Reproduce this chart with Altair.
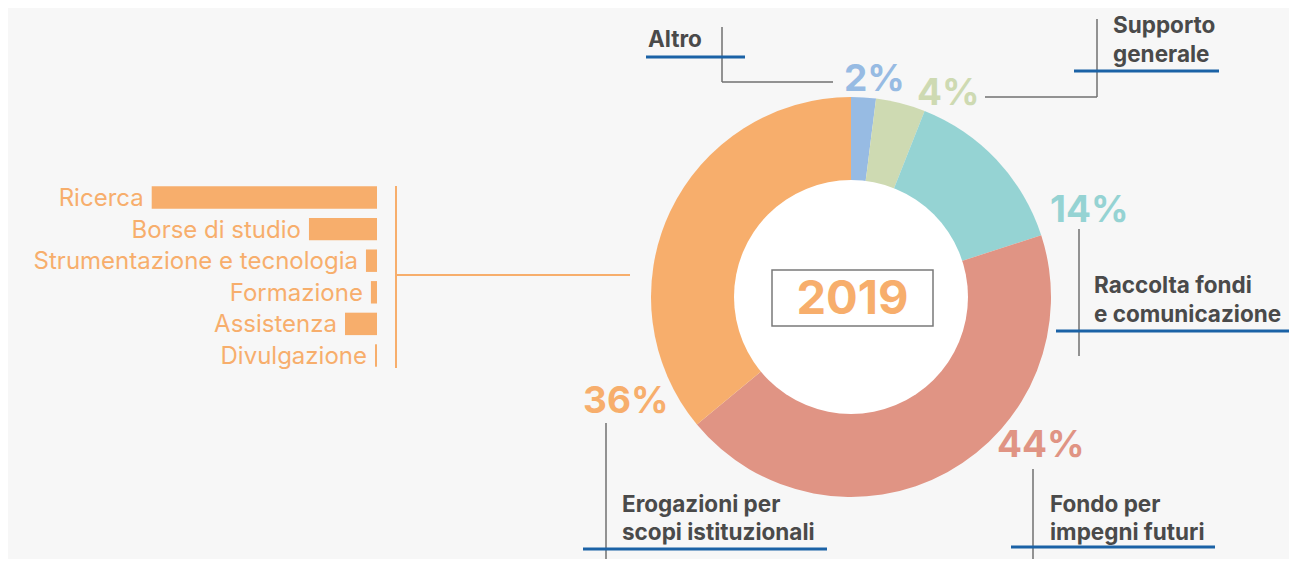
import altair as alt
import pandas as pd

# ---------------- data ----------------
slice_labels = ["Altro", "Supporto generale", "Raccolta fondi e comunicazione",
                "Fondo per impegni futuri", "Erogazioni per scopi istituzionali"]
slice_values = [2, 4, 14, 44, 36]
slice_colors = ["#97BBE3", "#CEDAB2", "#95D3D3", "#E09484", "#F7AE6C"]
pct_text = ["2%", "4%", "14%", "44%", "36%"]

bar_cats = ["Ricerca", "Borse di studio", "Strumentazione e tecnologia",
            "Formazione", "Assistenza", "Divulgazione"]
bar_values = [100, 30.2, 4.9, 2.7, 14.2, 0.9]

year_text = "2019"

# label lines (two-line names)
name_lines = [["Altro"], ["Supporto", "generale"], ["Raccolta fondi", "e comunicazione"],
              ["Fondo per", "impegni futuri"], ["Erogazioni per", "scopi istituzionali"]]

# ---------------- layout (page pixel coordinates) ----------------
OFF = 8
W, H = 1297 - 2 * OFF, 567 - 2 * OFF
CX, CY = 851 - OFF, 297 - OFF
R_OUT, R_IN = 200, 117

pct_pos = [(844, 91), (917, 105), (1050, 222), (997, 457), (583, 413)]
name_pos = [(648, [47]), (1113, [33, 62]), (1094, [293, 322]),
            (1050, [512, 540]), (622, [512, 540])]

leader_lines = [(722, 722, 27, 82), (722, 833, 82, 82),
                (1097, 1097, 19, 97), (985, 1097, 97, 97),
                (1079, 1079, 229, 356), (1033, 1033, 469, 567),
                (606, 606, 423, 567)]
underlines = [(646, 745, 57, 57), (1074, 1219, 71, 71), (1056, 1293, 331, 331),
              (1011, 1215, 547, 547), (583, 827, 549, 549)]
bracket = [(396, 396, 186, 368), (396, 630, 275, 275)]
year_box = (772, 933, 270, 326)

ORANGE = "#F7AE6C"
DARK = "#4A4A4A"
FONT = "Inter"

# ---------------- tables ----------------
slices = pd.DataFrame({"name": slice_labels, "value": slice_values,
                       "color": slice_colors, "idx": range(len(slice_values))})

pcts = pd.DataFrame({"t": pct_text, "color": slice_colors,
                     "x": [p[0] - OFF for p in pct_pos], "y": [p[1] - OFF for p in pct_pos]})

name_rows = []
for lines, (x, ys) in zip(name_lines, name_pos):
    for ln, yy in zip(lines, ys):
        name_rows.append({"t": ln, "x": x - OFF, "y": yy - OFF})
names = pd.DataFrame(name_rows)


def seg_df(segs):
    return pd.DataFrame([{"x": a - OFF, "x2": b - OFF, "y": c - OFF, "y2": d - OFF}
                         for a, b, c, d in segs])


bars = pd.DataFrame({"cat": bar_cats, "value": bar_values})

# ---------------- layers ----------------
px = lambda f: alt.X(f, type="quantitative", scale=None, axis=None)
py = lambda f: alt.Y(f, type="quantitative", scale=None, axis=None)


def rules(segs, color, width):
    return alt.Chart(seg_df(segs)).mark_rule(color=color, strokeWidth=width).encode(
        x=px("x"), x2="x2", y=py("y"), y2="y2")


donut = alt.Chart(slices).mark_arc(radius=R_OUT, radius2=0, stroke=None).encode(
    theta=alt.Theta("value:Q", stack=True),
    order=alt.Order("idx:Q"),
    color=alt.Color("color:N", scale=None),
    x=alt.value(CX), y=alt.value(CY))

hole = alt.Chart(pd.DataFrame({"v": [1]})).mark_arc(radius=R_IN, color="#FFFFFF").encode(
    theta=alt.Theta("v:Q"), x=alt.value(CX), y=alt.value(CY))

bx = year_box
box = alt.Chart(pd.DataFrame([{"x": bx[0] - OFF, "x2": bx[1] - OFF, "y": bx[2] - OFF, "y2": bx[3] - OFF}])).mark_rect(
    fill="#FFFFFF", stroke="#7A7A7A", strokeWidth=1.5).encode(x=px("x"), x2="x2", y=py("y"), y2="y2")

year = alt.Chart(pd.DataFrame({"t": [year_text]})).mark_text(
    font=FONT, fontSize=47, fontWeight="bold", color=ORANGE, align="center", baseline="middle").encode(
    text="t:N", x=alt.value((bx[0] + bx[1]) / 2 - OFF), y=alt.value((bx[2] + bx[3]) / 2 - OFF + 2))

pct_layer = alt.Chart(pcts).mark_text(
    font=FONT, fontSize=37, fontWeight="bold", align="left", baseline="alphabetic").encode(
    text="t:N", x=px("x"), y=py("y"), color=alt.Color("color:N", scale=None))

name_layer = alt.Chart(names).mark_text(
    font=FONT, fontSize=22.5, fontWeight="bold", color=DARK, align="left", baseline="alphabetic").encode(
    text="t:N", x=px("x"), y=py("y"))

xs = alt.Scale(domain=[0, 100], range=[377 - OFF, 151.7 - OFF])
ys = alt.Scale(domain=bar_cats, range=[181.7 - OFF, 371.3 - OFF], paddingInner=0.29, paddingOuter=0.145)

bar_layer = alt.Chart(bars).mark_bar(color=ORANGE).encode(
    x=alt.X("value:Q", scale=xs, axis=None), x2=alt.datum(0),
    y=alt.Y("cat:N", scale=ys, sort=bar_cats, axis=None))

bar_text = alt.Chart(bars).mark_text(
    font=FONT, fontSize=24, color=ORANGE, align="right", baseline="alphabetic", dx=-8, dy=8.5).encode(
    text="cat:N",
    x=alt.X("value:Q", scale=xs, axis=None),
    y=alt.Y("cat:N", scale=ys, sort=bar_cats, axis=None))

chart = alt.layer(
    rules(bracket, ORANGE, 2),
    donut, hole, box, year,
    rules(leader_lines, "#707070", 1.5),
    rules(underlines, "#1B62A6", 3),
    pct_layer, name_layer, bar_layer, bar_text,
).resolve_scale(x="independent", y="independent", theta="independent", color="independent").properties(
    width=W, height=H, background="#F7F7F7", padding=0,
    autosize=alt.AutoSizeParams(type="none")
).configure_view(stroke=None)

chart.save("out.html", embed_options={"renderer": "svg", "actions": False})
